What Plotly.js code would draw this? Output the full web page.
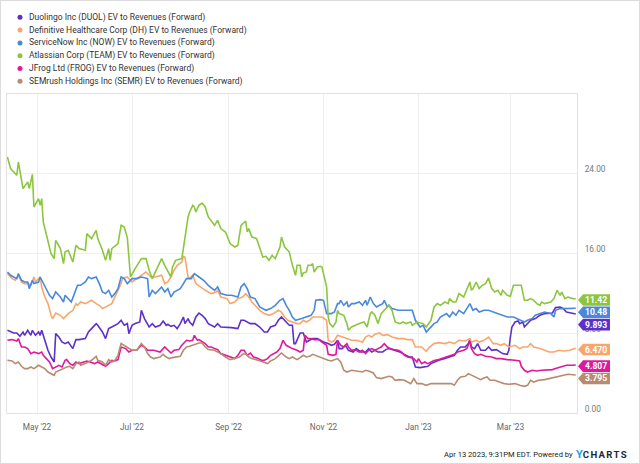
<!DOCTYPE html>
<html>
<head>
<meta charset="utf-8">
<script src="https://cdn.plot.ly/plotly-3.0.1.min.js"></script>
<style>
html,body{margin:0;padding:0;background:#fff;}
#wrap{position:relative;width:640px;height:464px;}
#chart{width:640px;height:464px;}
#frame{position:absolute;left:0;top:0;width:640px;height:464px;box-sizing:border-box;border:1px solid #dcdcdc;pointer-events:none;}
</style>
</head>
<body>
<div id="wrap"><div id="chart"></div><div id="frame"></div></div>
<script>
// ---------------- DATA ----------------
const seriesNames = [
  "Duolingo Inc (DUOL) EV to Revenues (Forward)",
  "Definitive Healthcare Corp (DH) EV to Revenues (Forward)",
  "ServiceNow Inc (NOW) EV to Revenues (Forward)",
  "Atlassian Corp (TEAM) EV to Revenues (Forward)",
  "JFrog Ltd (FROG) EV to Revenues (Forward)",
  "SEMrush Holdings Inc (SEMR) EV to Revenues (Forward)"
];
const seriesColors = ["#5d31c9", "#f9a66d", "#4a88dc", "#8cc63f", "#e0189b", "#b98b6e"];
const lastLabels = ["9.893", "6.470", "10.48", "11.42", "4.807", "3.795"];

const xTickVals = ["2022-05-01", "2022-07-01", "2022-09-01", "2022-11-01", "2023-01-01", "2023-03-01"];
const xTickText = ["May '22", "Jul '22", "Sep '22", "Nov '22", "Jan '23", "Mar '23"];
const yTickVals = [0, 8, 16, 24];

const teamDates = ["2022-04-12","2022-04-14","2022-04-18","2022-04-19","2022-04-22","2022-04-25","2022-04-26","2022-04-28","2022-04-29","2022-05-02","2022-05-03","2022-05-04","2022-05-05","2022-05-08","2022-05-10","2022-05-12","2022-05-13","2022-05-16","2022-05-18","2022-05-19","2022-05-21","2022-05-24","2022-05-26","2022-05-28","2022-06-01","2022-06-02","2022-06-05","2022-06-08","2022-06-09","2022-06-12","2022-06-14","2022-06-16","2022-06-17","2022-06-18","2022-06-22","2022-06-24","2022-06-26","2022-06-28","2022-06-30","2022-07-03","2022-07-07","2022-07-10","2022-07-12","2022-07-14","2022-07-20","2022-07-22","2022-07-24","2022-07-26","2022-07-27","2022-07-29","2022-08-02","2022-08-03","2022-08-04","2022-08-06","2022-08-07","2022-08-09","2022-08-10","2022-08-11","2022-08-13","2022-08-15","2022-08-17","2022-08-19","2022-08-23","2022-08-25","2022-08-27","2022-08-30","2022-09-02","2022-09-05","2022-09-07","2022-09-09","2022-09-12","2022-09-13","2022-09-14","2022-09-16","2022-09-19","2022-09-21","2022-09-23","2022-09-25","2022-09-27","2022-09-29","2022-10-01","2022-10-04","2022-10-05","2022-10-07","2022-10-10","2022-10-12","2022-10-14","2022-10-15","2022-10-17","2022-10-18","2022-10-19","2022-10-21","2022-10-22","2022-10-24","2022-10-25","2022-10-26","2022-10-28","2022-10-30","2022-10-31","2022-11-03","2022-11-04","2022-11-05","2022-11-07","2022-11-09","2022-11-10","2022-11-11","2022-11-14","2022-11-16","2022-11-17","2022-11-19","2022-11-21","2022-11-24","2022-11-27","2022-11-29","2022-12-01","2022-12-02","2022-12-04","2022-12-06","2022-12-08","2022-12-10","2022-12-13","2022-12-15","2022-12-17","2022-12-20","2022-12-22","2022-12-24","2022-12-27","2022-12-28","2022-12-31","2023-01-04","2023-01-06","2023-01-09","2023-01-11","2023-01-13","2023-01-15","2023-01-18","2023-01-20","2023-01-21","2023-01-23","2023-01-25","2023-01-27","2023-01-30","2023-02-01","2023-02-03","2023-02-04","2023-02-05","2023-02-07","2023-02-09","2023-02-11","2023-02-13","2023-02-15","2023-02-17","2023-02-19","2023-02-21","2023-02-23","2023-02-24","2023-02-27","2023-03-01","2023-03-03","2023-03-06","2023-03-08","2023-03-10","2023-03-12","2023-03-14","2023-03-16","2023-03-18","2023-03-20","2023-03-21","2023-03-23","2023-03-27","2023-03-29","2023-03-31","2023-04-02","2023-04-03","2023-04-05","2023-04-07","2023-04-10","2023-04-12"];
const teamValues = [25.60,24.44,23.77,25.10,22.44,23.10,22.44,23.87,20.60,21.44,20.77,21.44,19.10,17.27,15.94,15.44,17.27,16.44,14.94,16.10,16.27,15.10,16.77,16.44,16.27,17.94,17.44,18.27,17.44,16.27,15.27,16.44,15.27,16.44,16.94,18.77,18.60,17.54,13.60,14.44,15.44,15.44,14.27,13.44,15.44,14.77,14.10,13.60,14.60,15.27,15.44,16.44,17.60,19.60,20.10,20.77,20.60,20.10,20.77,21.00,20.60,19.60,18.77,19.27,18.44,18.10,16.94,16.60,16.77,18.77,19.20,18.10,18.44,17.60,17.44,16.60,15.60,15.67,15.27,15.77,15.44,16.60,17.60,16.60,16.10,14.77,13.77,14.77,14.77,13.60,14.00,14.10,14.77,14.77,14.94,14.10,14.60,14.67,14.60,12.60,9.60,8.94,8.60,9.10,10.27,9.94,9.77,8.94,8.27,8.60,8.77,8.94,9.10,8.60,9.94,10.10,9.77,8.94,9.94,10.27,10.77,10.27,9.10,8.94,9.10,8.94,9.10,8.77,9.10,8.94,8.60,9.27,10.60,10.94,10.77,11.10,10.94,11.44,11.10,11.10,11.94,11.60,12.27,13.10,12.27,12.44,13.10,12.44,12.77,12.94,13.50,12.44,12.10,12.27,11.77,12.27,11.77,11.67,12.77,12.77,12.77,11.27,11.27,11.44,11.27,10.94,10.77,11.10,10.94,11.10,11.44,12.27,11.77,12.10,11.44,11.60,11.44,11.42];

const nowDates = ["2022-04-12","2022-04-14","2022-04-16","2022-04-18","2022-04-19","2022-04-21","2022-04-23","2022-04-25","2022-04-26","2022-04-28","2022-04-29","2022-05-02","2022-05-03","2022-05-05","2022-05-07","2022-05-09","2022-05-11","2022-05-13","2022-05-16","2022-05-18","2022-05-19","2022-05-21","2022-05-23","2022-05-25","2022-05-27","2022-05-29","2022-06-01","2022-06-03","2022-06-05","2022-06-08","2022-06-10","2022-06-12","2022-06-14","2022-06-16","2022-06-18","2022-06-20","2022-06-22","2022-06-24","2022-06-26","2022-06-28","2022-07-01","2022-07-04","2022-07-07","2022-07-11","2022-07-12","2022-07-14","2022-07-16","2022-07-20","2022-07-22","2022-07-24","2022-07-26","2022-07-28","2022-08-01","2022-08-03","2022-08-05","2022-08-08","2022-08-10","2022-08-13","2022-08-16","2022-08-19","2022-08-23","2022-08-25","2022-08-27","2022-08-31","2022-09-03","2022-09-07","2022-09-09","2022-09-11","2022-09-13","2022-09-15","2022-09-18","2022-09-21","2022-09-25","2022-09-28","2022-10-01","2022-10-04","2022-10-06","2022-10-08","2022-10-10","2022-10-12","2022-10-14","2022-10-18","2022-10-21","2022-10-24","2022-10-26","2022-10-27","2022-10-30","2022-11-01","2022-11-03","2022-11-06","2022-11-08","2022-11-10","2022-11-11","2022-11-12","2022-11-14","2022-11-16","2022-11-17","2022-11-19","2022-11-21","2022-11-24","2022-11-26","2022-11-28","2022-11-29","2022-12-01","2022-12-03","2022-12-05","2022-12-07","2022-12-09","2022-12-10","2022-12-12","2022-12-13","2022-12-15","2022-12-19","2022-12-22","2022-12-25","2022-12-28","2022-12-30","2023-01-02","2023-01-04","2023-01-06","2023-01-08","2023-01-11","2023-01-13","2023-01-15","2023-01-19","2023-01-21","2023-01-23","2023-01-25","2023-01-27","2023-01-30","2023-02-01","2023-02-03","2023-02-05","2023-02-07","2023-02-09","2023-02-12","2023-02-15","2023-02-18","2023-02-21","2023-02-24","2023-02-27","2023-03-03","2023-03-05","2023-03-07","2023-03-10","2023-03-12","2023-03-15","2023-03-17","2023-03-20","2023-03-23","2023-03-27","2023-03-29","2023-03-30","2023-04-02","2023-04-05","2023-04-08","2023-04-12"];
const nowValues = [14.10,13.77,13.60,13.44,13.94,13.27,13.10,13.10,12.44,13.27,12.94,13.10,13.60,12.94,12.27,11.77,11.44,12.10,11.60,11.10,11.77,11.44,11.10,11.94,12.77,12.77,13.10,13.60,13.44,13.60,12.94,12.10,11.94,12.27,11.60,11.94,12.44,13.60,13.44,12.94,13.44,13.44,13.60,13.44,11.60,12.27,11.94,12.60,12.10,12.44,11.60,12.10,12.44,12.94,13.44,13.44,13.94,13.60,13.27,12.77,12.27,12.60,11.94,11.77,11.77,11.60,12.60,12.94,12.44,11.60,11.44,10.60,10.27,10.44,10.77,11.27,11.44,10.77,10.27,9.60,9.27,9.44,9.60,9.77,10.27,11.27,11.34,11.27,9.94,9.94,10.10,10.94,10.94,11.27,10.77,11.10,10.60,10.94,10.94,11.10,10.77,11.27,10.77,11.60,10.94,10.60,10.77,10.94,11.27,10.60,10.77,10.44,10.27,10.27,10.20,10.27,9.27,8.60,8.77,8.10,8.44,8.94,9.10,9.60,9.94,9.60,10.10,9.77,10.27,9.94,10.44,10.94,10.27,10.44,10.10,10.27,10.27,10.10,9.94,9.77,9.60,9.60,9.44,9.27,9.10,9.27,9.44,9.77,9.94,10.10,9.94,9.60,10.27,10.44,10.44,10.44,10.48];

const dhDates = ["2022-04-12","2022-04-15","2022-04-17","2022-04-19","2022-04-21","2022-04-23","2022-04-25","2022-04-27","2022-04-29","2022-04-30","2022-05-03","2022-05-04","2022-05-06","2022-05-08","2022-05-10","2022-05-11","2022-05-13","2022-05-16","2022-05-18","2022-05-21","2022-05-24","2022-05-26","2022-05-27","2022-05-29","2022-06-01","2022-06-03","2022-06-05","2022-06-08","2022-06-10","2022-06-12","2022-06-14","2022-06-18","2022-06-21","2022-06-23","2022-06-25","2022-06-28","2022-07-01","2022-07-04","2022-07-07","2022-07-10","2022-07-13","2022-07-16","2022-07-20","2022-07-22","2022-07-24","2022-07-26","2022-07-28","2022-07-30","2022-08-02","2022-08-03","2022-08-04","2022-08-06","2022-08-07","2022-08-09","2022-08-11","2022-08-14","2022-08-17","2022-08-21","2022-08-24","2022-08-25","2022-08-27","2022-08-31","2022-09-02","2022-09-05","2022-09-07","2022-09-10","2022-09-12","2022-09-14","2022-09-16","2022-09-18","2022-09-21","2022-09-24","2022-09-27","2022-09-30","2022-10-03","2022-10-05","2022-10-07","2022-10-09","2022-10-12","2022-10-15","2022-10-17","2022-10-19","2022-10-21","2022-10-23","2022-10-25","2022-10-28","2022-10-31","2022-11-03","2022-11-04","2022-11-06","2022-11-08","2022-11-10","2022-11-13","2022-11-16","2022-11-19","2022-11-22","2022-11-26","2022-11-28","2022-11-30","2022-12-02","2022-12-04","2022-12-07","2022-12-09","2022-12-12","2022-12-15","2022-12-19","2022-12-22","2022-12-25","2022-12-28","2022-12-30","2023-01-03","2023-01-06","2023-01-08","2023-01-11","2023-01-14","2023-01-18","2023-01-21","2023-01-24","2023-01-27","2023-01-31","2023-02-03","2023-02-04","2023-02-07","2023-02-09","2023-02-12","2023-02-15","2023-02-18","2023-02-20","2023-02-23","2023-02-25","2023-02-28","2023-03-04","2023-03-07","2023-03-09","2023-03-12","2023-03-14","2023-03-16","2023-03-20","2023-03-23","2023-03-26","2023-03-29","2023-04-01","2023-04-04","2023-04-08","2023-04-12"];
const dhValues = [13.94,13.44,13.27,13.77,13.10,12.94,12.94,12.77,13.60,13.10,13.60,12.60,11.60,10.94,9.77,9.44,10.00,9.77,9.44,9.94,10.27,10.94,10.77,11.10,10.94,11.10,11.27,10.94,10.77,10.44,10.60,10.94,11.94,12.60,13.44,13.60,13.10,13.44,13.77,14.10,13.60,13.60,13.77,12.94,13.10,13.60,14.27,14.77,15.10,15.67,15.60,13.60,13.44,13.77,12.94,12.60,12.27,11.94,12.10,12.27,11.60,11.44,10.94,11.10,11.44,11.60,11.94,11.60,11.10,10.77,10.27,9.94,9.77,9.94,10.27,10.10,9.60,9.27,9.10,8.94,8.94,9.27,9.10,9.27,9.60,9.60,9.60,9.27,7.27,7.10,7.27,7.77,7.60,7.44,7.27,7.27,7.10,7.60,7.77,7.60,7.87,8.00,7.77,7.84,7.60,7.44,7.44,7.34,7.34,6.60,6.60,6.17,6.60,6.94,7.04,6.94,7.10,6.94,7.27,7.20,7.44,7.10,7.27,7.10,7.27,7.60,6.94,6.94,6.77,6.94,6.60,6.77,6.44,6.60,6.60,6.94,6.60,6.44,6.27,6.10,6.10,6.27,6.20,6.27,6.47];

const duolDates = ["2022-04-12","2022-04-14","2022-04-16","2022-04-18","2022-04-20","2022-04-22","2022-04-23","2022-04-25","2022-04-27","2022-04-28","2022-04-30","2022-05-02","2022-05-03","2022-05-04","2022-05-06","2022-05-08","2022-05-10","2022-05-12","2022-05-13","2022-05-15","2022-05-17","2022-05-19","2022-05-21","2022-05-23","2022-05-24","2022-05-26","2022-05-28","2022-06-01","2022-06-03","2022-06-05","2022-06-08","2022-06-09","2022-06-12","2022-06-14","2022-06-16","2022-06-18","2022-06-20","2022-06-22","2022-06-24","2022-06-26","2022-06-28","2022-06-29","2022-07-01","2022-07-03","2022-07-06","2022-07-07","2022-07-09","2022-07-12","2022-07-14","2022-07-16","2022-07-19","2022-07-21","2022-07-23","2022-07-24","2022-07-26","2022-07-28","2022-07-30","2022-08-01","2022-08-03","2022-08-04","2022-08-06","2022-08-07","2022-08-09","2022-08-11","2022-08-13","2022-08-15","2022-08-17","2022-08-19","2022-08-23","2022-08-25","2022-08-27","2022-08-31","2022-09-03","2022-09-07","2022-09-09","2022-09-11","2022-09-13","2022-09-15","2022-09-18","2022-09-21","2022-09-24","2022-09-26","2022-09-28","2022-10-01","2022-10-03","2022-10-05","2022-10-08","2022-10-10","2022-10-12","2022-10-13","2022-10-14","2022-10-16","2022-10-17","2022-10-19","2022-10-21","2022-10-23","2022-10-25","2022-10-28","2022-10-30","2022-11-01","2022-11-04","2022-11-06","2022-11-08","2022-11-10","2022-11-11","2022-11-13","2022-11-15","2022-11-17","2022-11-20","2022-11-22","2022-11-25","2022-11-28","2022-11-30","2022-12-02","2022-12-04","2022-12-06","2022-12-09","2022-12-11","2022-12-13","2022-12-15","2022-12-17","2022-12-20","2022-12-22","2022-12-24","2022-12-26","2022-12-28","2022-12-30","2023-01-02","2023-01-05","2023-01-07","2023-01-09","2023-01-11","2023-01-14","2023-01-18","2023-01-21","2023-01-24","2023-01-26","2023-01-28","2023-01-31","2023-02-02","2023-02-03","2023-02-04","2023-02-06","2023-02-08","2023-02-10","2023-02-13","2023-02-15","2023-02-17","2023-02-20","2023-02-22","2023-02-24","2023-02-27","2023-02-28","2023-03-01","2023-03-02","2023-03-04","2023-03-06","2023-03-07","2023-03-09","2023-03-10","2023-03-12","2023-03-14","2023-03-17","2023-03-20","2023-03-23","2023-03-26","2023-03-28","2023-03-30","2023-04-02","2023-04-04","2023-04-06","2023-04-09","2023-04-12"];
const duolValues = [8.27,8.10,8.00,8.00,7.67,8.10,7.77,8.27,7.77,8.27,7.77,8.10,7.77,8.27,7.27,6.27,5.60,5.10,7.94,7.60,7.10,6.94,7.10,6.60,6.44,7.34,7.34,7.44,8.10,8.44,8.94,8.77,8.10,7.44,8.44,8.60,8.77,8.94,9.27,8.77,8.94,7.94,8.77,8.94,9.10,10.27,9.44,8.60,8.94,8.60,8.77,9.20,8.77,8.87,8.67,8.77,8.44,8.94,9.60,8.94,9.44,9.10,8.77,9.60,10.00,9.77,9.44,8.94,8.60,8.94,8.60,8.60,8.54,8.44,9.27,9.27,9.10,8.94,8.94,8.60,8.10,8.10,8.60,8.77,9.27,9.60,9.10,8.77,8.77,6.94,6.94,7.60,8.00,8.00,7.10,7.27,7.44,7.44,7.27,7.10,6.94,6.77,6.87,7.27,6.44,6.44,6.77,6.27,6.10,6.44,6.10,6.10,6.44,6.10,6.27,6.10,6.10,6.34,6.44,6.34,6.27,6.10,5.94,5.77,5.60,5.60,4.60,4.54,4.60,4.67,4.94,5.10,5.27,5.44,5.60,5.77,6.27,6.60,6.60,6.94,7.34,6.60,6.44,6.94,6.27,6.27,6.60,6.27,6.34,6.10,5.94,5.87,6.27,7.60,8.60,9.10,9.20,8.94,9.10,8.60,8.94,9.27,9.44,9.77,9.94,10.00,10.00,10.54,10.60,10.44,10.10,10.00,9.893];

const frogDates = ["2022-04-12","2022-04-15","2022-04-18","2022-04-19","2022-04-21","2022-04-23","2022-04-25","2022-04-27","2022-04-29","2022-05-02","2022-05-04","2022-05-05","2022-05-07","2022-05-09","2022-05-11","2022-05-13","2022-05-15","2022-05-17","2022-05-19","2022-05-20","2022-05-22","2022-05-24","2022-05-26","2022-05-28","2022-05-31","2022-06-02","2022-06-04","2022-06-07","2022-06-09","2022-06-12","2022-06-14","2022-06-16","2022-06-18","2022-06-20","2022-06-22","2022-06-24","2022-06-27","2022-06-29","2022-07-01","2022-07-04","2022-07-07","2022-07-09","2022-07-11","2022-07-15","2022-07-19","2022-07-22","2022-07-24","2022-07-26","2022-07-28","2022-07-31","2022-08-02","2022-08-05","2022-08-07","2022-08-09","2022-08-10","2022-08-12","2022-08-13","2022-08-15","2022-08-17","2022-08-19","2022-08-21","2022-08-23","2022-08-25","2022-08-27","2022-08-30","2022-09-02","2022-09-05","2022-09-07","2022-09-09","2022-09-11","2022-09-13","2022-09-15","2022-09-17","2022-09-20","2022-09-22","2022-09-24","2022-09-26","2022-09-28","2022-10-02","2022-10-04","2022-10-06","2022-10-08","2022-10-10","2022-10-12","2022-10-15","2022-10-17","2022-10-19","2022-10-20","2022-10-22","2022-10-24","2022-10-26","2022-10-29","2022-10-31","2022-11-03","2022-11-04","2022-11-07","2022-11-09","2022-11-10","2022-11-12","2022-11-14","2022-11-16","2022-11-17","2022-11-19","2022-11-21","2022-11-24","2022-11-26","2022-11-28","2022-11-30","2022-12-02","2022-12-04","2022-12-06","2022-12-08","2022-12-10","2022-12-12","2022-12-14","2022-12-16","2022-12-19","2022-12-21","2022-12-23","2022-12-25","2022-12-27","2022-12-29","2022-12-31","2023-01-01","2023-01-03","2023-01-05","2023-01-07","2023-01-09","2023-01-11","2023-01-14","2023-01-18","2023-01-21","2023-01-24","2023-01-26","2023-01-30","2023-02-01","2023-02-03","2023-02-04","2023-02-06","2023-02-08","2023-02-10","2023-02-13","2023-02-17","2023-02-20","2023-02-23","2023-02-27","2023-03-01","2023-03-04","2023-03-07","2023-03-08","2023-03-10","2023-03-12","2023-03-15","2023-03-18","2023-03-21","2023-03-25","2023-03-28","2023-03-30","2023-04-03","2023-04-06","2023-04-10","2023-04-12"];
const frogValues = [7.27,7.34,7.20,7.44,6.60,6.60,6.44,5.94,6.10,5.94,6.10,5.77,5.44,5.10,4.44,4.60,4.77,4.60,5.27,5.34,4.94,4.77,5.10,4.94,5.10,5.20,5.10,4.94,5.10,4.87,4.67,4.94,5.27,5.20,5.34,6.60,6.44,6.10,6.27,6.27,6.77,6.60,6.27,6.27,6.10,6.60,6.34,6.00,6.27,6.34,6.77,7.27,7.20,7.27,7.77,7.27,7.34,7.10,6.94,6.60,6.60,6.44,6.34,5.94,5.77,5.60,5.44,5.77,6.27,6.27,5.77,6.00,5.60,5.44,5.27,5.27,5.44,5.77,6.10,6.44,7.27,6.77,6.60,6.44,6.27,6.10,6.27,7.77,7.44,7.44,7.34,7.34,7.10,6.77,5.87,5.77,5.87,7.27,6.77,6.60,6.94,6.60,6.27,6.34,6.10,6.27,5.94,6.27,6.44,6.27,6.44,6.60,6.94,6.60,6.44,6.34,6.27,6.10,5.77,5.60,5.54,5.44,5.10,5.44,4.94,5.10,4.94,5.10,5.24,5.34,5.54,5.67,5.87,6.10,6.27,6.44,7.17,6.44,5.94,5.77,5.87,5.67,5.60,5.44,5.44,5.34,5.34,5.27,5.20,4.67,4.27,4.10,4.27,4.20,4.27,4.27,4.34,4.44,4.60,4.77,4.77,4.807];

const semrDates = ["2022-04-12","2022-04-15","2022-04-17","2022-04-19","2022-04-21","2022-04-23","2022-04-25","2022-04-27","2022-04-29","2022-05-02","2022-05-04","2022-05-06","2022-05-08","2022-05-10","2022-05-12","2022-05-13","2022-05-16","2022-05-18","2022-05-20","2022-05-22","2022-05-24","2022-05-26","2022-05-28","2022-05-29","2022-06-01","2022-06-03","2022-06-05","2022-06-08","2022-06-09","2022-06-12","2022-06-14","2022-06-16","2022-06-18","2022-06-20","2022-06-22","2022-06-24","2022-06-26","2022-06-28","2022-07-01","2022-07-04","2022-07-07","2022-07-09","2022-07-11","2022-07-13","2022-07-15","2022-07-19","2022-07-21","2022-07-23","2022-07-25","2022-07-27","2022-07-29","2022-08-01","2022-08-03","2022-08-05","2022-08-07","2022-08-09","2022-08-11","2022-08-13","2022-08-15","2022-08-17","2022-08-19","2022-08-23","2022-08-25","2022-08-27","2022-08-30","2022-09-02","2022-09-05","2022-09-08","2022-09-10","2022-09-12","2022-09-14","2022-09-16","2022-09-20","2022-09-23","2022-09-26","2022-09-28","2022-10-01","2022-10-04","2022-10-05","2022-10-08","2022-10-10","2022-10-12","2022-10-15","2022-10-17","2022-10-19","2022-10-21","2022-10-23","2022-10-25","2022-10-28","2022-10-30","2022-11-01","2022-11-04","2022-11-06","2022-11-08","2022-11-10","2022-11-12","2022-11-14","2022-11-16","2022-11-19","2022-11-22","2022-11-26","2022-11-28","2022-11-30","2022-12-03","2022-12-05","2022-12-08","2022-12-11","2022-12-13","2022-12-15","2022-12-17","2022-12-20","2022-12-23","2022-12-25","2022-12-27","2022-12-29","2022-12-31","2023-01-03","2023-01-06","2023-01-09","2023-01-12","2023-01-15","2023-01-19","2023-01-22","2023-01-24","2023-01-26","2023-01-28","2023-01-31","2023-02-02","2023-02-04","2023-02-06","2023-02-08","2023-02-10","2023-02-12","2023-02-14","2023-02-16","2023-02-19","2023-02-22","2023-02-25","2023-02-28","2023-03-04","2023-03-07","2023-03-10","2023-03-12","2023-03-14","2023-03-16","2023-03-19","2023-03-23","2023-03-26","2023-03-29","2023-04-01","2023-04-04","2023-04-07","2023-04-12"];
const semrValues = [5.27,5.20,4.94,5.10,4.67,4.44,4.44,4.60,4.44,4.77,4.60,4.44,4.10,3.94,3.77,4.10,4.27,4.44,4.60,4.67,4.44,4.94,5.10,4.77,4.94,5.10,5.27,5.67,5.27,5.10,4.77,5.34,5.10,5.27,5.77,6.94,6.77,6.60,6.27,6.27,6.94,6.60,5.94,5.60,5.44,5.60,5.87,5.60,5.44,5.54,5.60,5.67,6.27,6.60,6.67,6.77,6.94,7.00,7.00,6.60,6.34,6.27,6.10,5.94,5.60,5.34,5.44,5.60,5.87,5.94,5.60,5.44,5.27,5.10,4.94,5.20,5.44,5.87,6.00,5.60,5.44,5.60,5.34,5.54,5.77,5.60,5.67,5.87,5.67,5.60,5.44,5.27,5.20,5.34,5.44,5.10,4.27,4.10,4.27,4.20,4.10,4.27,4.20,4.00,3.54,3.44,3.54,3.67,3.60,3.27,3.34,3.27,3.10,2.94,3.44,2.94,2.94,2.77,2.94,2.94,2.94,2.87,2.94,2.77,3.27,3.60,3.67,3.94,3.77,3.60,3.44,3.34,3.50,3.60,3.27,3.27,3.10,2.94,2.87,2.94,2.77,2.67,2.77,3.27,3.10,3.27,3.34,3.44,3.54,3.60,3.77,3.87,3.795];

const seriesDates = [duolDates, dhDates, nowDates, teamDates, frogDates, semrDates];
const seriesValues = [duolValues, dhValues, nowValues, teamValues, frogValues, semrValues];

// ---------------- LAYOUT ----------------
const W = 640, H = 464;
const M = {l: 7, r: 63, t: 94, b: 51};
const PW = W - M.l - M.r, PH = H - M.t - M.b;
const Y_RANGE = [0, 31.9];
const X_RANGE = ["2022-04-11 17:00", "2023-04-12 19:00"];
const FONT = "Roboto, sans-serif";

const pxX = px => (px - M.l) / PW;          // page px -> paper x
const pxY = py => (H - M.b - py) / PH;      // page px -> paper y
const unitsPerPx = (Y_RANGE[1] - Y_RANGE[0]) / PH;

const traces = seriesNames.map((name, i) => ({
  type: "scatter", mode: "lines", name: name,
  x: seriesDates[i], y: seriesValues[i],
  line: {color: seriesColors[i], width: 1.6},
  hoverinfo: "skip", showlegend: false
}));

const annotations = [];
const shapes = [];

// legend (text + dot)
seriesNames.forEach((name, i) => {
  const cy = 17.3 + i * 12.8;
  shapes.push({type: "circle", xref: "paper", yref: "paper", xsizemode: "pixel", ysizemode: "pixel",
    xanchor: pxX(20), yanchor: pxY(cy), x0: -2.5, x1: 2.5, y0: -2.5, y1: 2.5,
    fillcolor: seriesColors[i], line: {width: 0}});
  annotations.push({xref: "paper", yref: "paper", x: pxX(26.8), y: pxY(cy), xanchor: "left", yanchor: "middle",
    text: name, showarrow: false, font: {family: FONT, size: 8.5, color: "#333333"}});
});

// end-value tags, de-overlapped
const order = seriesValues.map((v, i) => i).sort((a, b) => seriesValues[b][seriesValues[b].length - 1] - seriesValues[a][seriesValues[a].length - 1]);
let prev = null;
const gap = 12.3 * unitsPerPx;
order.forEach(i => {
  const vals = seriesValues[i];
  let y = vals[vals.length - 1] - 1.2 * unitsPerPx;
  if (prev !== null && prev - y < gap) y = prev - gap;
  prev = y;
  shapes.push({type: "path", xref: "paper", yref: "y", xsizemode: "pixel", ysizemode: "pixel",
    xanchor: 1, yanchor: y, path: "M1,0 L6,5.8 L33,5.8 L33,-5.8 L6,-5.8 Z",
    fillcolor: seriesColors[i], line: {width: 0}, layer: "above"});
  annotations.push({xref: "paper", yref: "y", x: 1, y: y, xshift: 18.5, xanchor: "center", yanchor: "middle",
    text: "<b>" + lastLabels[i] + "</b>", showarrow: false,
    font: {family: FONT, size: 8.6, color: "#ffffff"}});
});

// footer
annotations.push({xref: "paper", yref: "paper", x: pxX(574.5), y: pxY(454.5), xanchor: "right", yanchor: "middle",
  text: "Apr 13 2023, 9:31PM EDT. Powered by", showarrow: false,
  font: {family: FONT, size: 7.6, color: "#222222"}});
annotations.push({xref: "paper", yref: "paper", x: pxX(574), y: pxY(454), xanchor: "left", yanchor: "middle",
  text: "<b><span style='color:#22a0e0;font-size:11px'>Y</span><span style='letter-spacing:1.3px'>CHARTS</span></b>", showarrow: false,
  font: {family: FONT, size: 9.6, color: "#1b2a3a"}});

const layout = {
  width: W, height: H, margin: M,
  paper_bgcolor: "#ffffff", plot_bgcolor: "#ffffff",
  showlegend: false,
  xaxis: {type: "date", range: X_RANGE, tickmode: "array", tickvals: xTickVals, ticktext: xTickText,
    showgrid: true, gridcolor: "#eeeeee", gridwidth: 1, zeroline: false,
    showline: true, linecolor: "#e2e2e2", linewidth: 1, mirror: true, ticks: "",
    ticklabelstandoff: 6,
    tickfont: {family: FONT, size: 8.3, color: "#666666"}},
  yaxis: {range: Y_RANGE, side: "right", tickmode: "array", tickvals: yTickVals, tickformat: ".2f",
    showgrid: true, gridcolor: "#eeeeee", gridwidth: 1, zeroline: false,
    showline: true, linecolor: "#e2e2e2", linewidth: 1, mirror: true, ticks: "",
    ticklabelstandoff: 5, ticklabelshift: -4,
    tickfont: {family: FONT, size: 8.3, color: "#777777"}},
  annotations: annotations, shapes: shapes
};

Plotly.newPlot("chart", traces, layout, {staticPlot: true, displayModeBar: false});
</script>
</body>
</html>
